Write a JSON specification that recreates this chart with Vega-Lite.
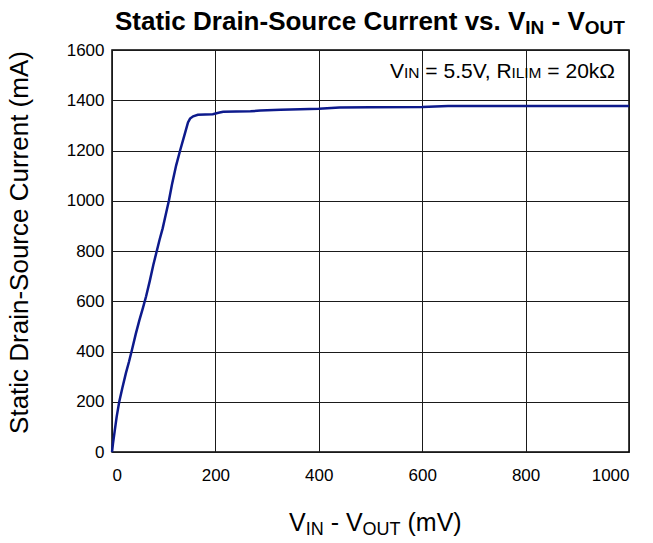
{
  "$schema": "https://vega.github.io/schema/vega-lite/v6.json",
  "autosize": {"type": "none"},
  "width": 517,
  "height": 402,
  "padding": {"left": 112, "top": 50, "right": 24, "bottom": 91},
  "background": "white",
  "config": {
    "view": {"stroke": "#000000", "strokeWidth": 1.5},
    "font": "Liberation Sans",
    "axis": {
      "domain": false,
      "ticks": false,
      "grid": true,
      "gridColor": "#1a1a1a",
      "gridOpacity": 1,
      "gridWidth": 1,
      "labelFont": "Liberation Sans",
      "labelFontSize": 17,
      "labelColor": "#000000",
      "format": "d",
      "titleFont": "Liberation Sans",
      "titleFontWeight": "normal",
      "titleColor": "#000000"
    }
  },
  "datasets": {
    "curve": [
      {"v": 0, "i": 0}, {"v": 2, "i": 35}, {"v": 5, "i": 80}, {"v": 9, "i": 140},
      {"v": 14, "i": 200}, {"v": 20, "i": 255}, {"v": 27, "i": 315}, {"v": 33, "i": 360},
      {"v": 39, "i": 410}, {"v": 46, "i": 470}, {"v": 53, "i": 525}, {"v": 60, "i": 575},
      {"v": 66, "i": 620}, {"v": 73, "i": 680}, {"v": 80, "i": 745}, {"v": 86, "i": 795},
      {"v": 92, "i": 845}, {"v": 98, "i": 890}, {"v": 104, "i": 945}, {"v": 110, "i": 1000},
      {"v": 116, "i": 1065}, {"v": 124, "i": 1140}, {"v": 132, "i": 1202}, {"v": 140, "i": 1260},
      {"v": 147, "i": 1312}, {"v": 151, "i": 1327}, {"v": 157, "i": 1336}, {"v": 166, "i": 1342},
      {"v": 180, "i": 1343}, {"v": 195, "i": 1344}, {"v": 206, "i": 1350}, {"v": 215, "i": 1354},
      {"v": 240, "i": 1355}, {"v": 268, "i": 1356}, {"v": 287, "i": 1359}, {"v": 326, "i": 1362},
      {"v": 364, "i": 1364}, {"v": 400, "i": 1366}, {"v": 440, "i": 1371}, {"v": 500, "i": 1372},
      {"v": 600, "i": 1373}, {"v": 650, "i": 1377}, {"v": 700, "i": 1377}, {"v": 800, "i": 1377},
      {"v": 900, "i": 1377}, {"v": 1000, "i": 1377}
    ],
    "titleMain": [
      {"v": 5.8, "i": 1680, "t": "Static Drain-Source Current vs. V"},
      {"v": 850.2, "i": 1680, "t": "- V"}
    ],
    "titleSub": [
      {"v": 799.4, "i": 1664, "t": "IN"},
      {"v": 914.5, "i": 1664, "t": "OUT"}
    ],
    "noteMain": [
      {"v": 537.7, "i": 1489, "t": "V"},
      {"v": 606.1, "i": 1489, "t": "= 5.5V, R"},
      {"v": 842.1, "i": 1489, "t": "= 20kΩ"}
    ],
    "noteSub": [
      {"v": 564.8, "i": 1489, "t": "IN"},
      {"v": 772.5, "i": 1489, "t": "ILIM"}
    ],
    "xtMain": [
      {"v": 342.4, "i": -314.5, "t": "V"},
      {"v": 422.9, "i": -314.5, "t": "- V"},
      {"v": 571.6, "i": -314.5, "t": "(mV)"}
    ],
    "xtSub": [
      {"v": 374.7, "i": -330, "t": "IN"},
      {"v": 484.7, "i": -330, "t": "OUT"}
    ]
  },
  "layer": [
    {
      "data": {"name": "curve"},
      "mark": {"type": "line", "color": "#0d1a8c", "strokeWidth": 2.5},
      "encoding": {
        "x": {"field": "v", "type": "quantitative", "scale": {"domain": [0, 1000], "nice": false},
          "axis": {"values": [0, 200, 400, 600, 800, 1000], "title": null, "labelPadding": 15}},
        "y": {"field": "i", "type": "quantitative", "scale": {"domain": [0, 1600], "nice": false},
          "axis": {"values": [0, 200, 400, 600, 800, 1000, 1200, 1400, 1600],
            "title": "Static Drain-Source Current (mA)", "titleFontSize": 26,
            "titleX": -85, "titleY": 192, "titleBaseline": "alphabetic", "titleAngle": -90,
            "labelPadding": 8}}
      }
    },
    {
      "data": {"name": "titleMain"},
      "mark": {"type": "text", "align": "left", "baseline": "alphabetic", "fontSize": 26, "fontWeight": "bold", "color": "#000000"},
      "encoding": {"x": {"field": "v", "type": "quantitative"}, "y": {"field": "i", "type": "quantitative"}, "text": {"field": "t"}}
    },
    {
      "data": {"name": "titleSub"},
      "mark": {"type": "text", "align": "left", "baseline": "alphabetic", "fontSize": 19, "fontWeight": "bold", "color": "#000000"},
      "encoding": {"x": {"field": "v", "type": "quantitative"}, "y": {"field": "i", "type": "quantitative"}, "text": {"field": "t"}}
    },
    {
      "data": {"name": "noteMain"},
      "mark": {"type": "text", "align": "left", "baseline": "alphabetic", "fontSize": 21, "color": "#000000"},
      "encoding": {"x": {"field": "v", "type": "quantitative"}, "y": {"field": "i", "type": "quantitative"}, "text": {"field": "t"}}
    },
    {
      "data": {"name": "noteSub"},
      "mark": {"type": "text", "align": "left", "baseline": "alphabetic", "fontSize": 15.5, "color": "#000000"},
      "encoding": {"x": {"field": "v", "type": "quantitative"}, "y": {"field": "i", "type": "quantitative"}, "text": {"field": "t"}}
    },
    {
      "data": {"name": "xtMain"},
      "mark": {"type": "text", "align": "left", "baseline": "alphabetic", "fontSize": 25, "color": "#000000"},
      "encoding": {"x": {"field": "v", "type": "quantitative"}, "y": {"field": "i", "type": "quantitative"}, "text": {"field": "t"}}
    },
    {
      "data": {"name": "xtSub"},
      "mark": {"type": "text", "align": "left", "baseline": "alphabetic", "fontSize": 18, "color": "#000000"},
      "encoding": {"x": {"field": "v", "type": "quantitative"}, "y": {"field": "i", "type": "quantitative"}, "text": {"field": "t"}}
    }
  ]
}
